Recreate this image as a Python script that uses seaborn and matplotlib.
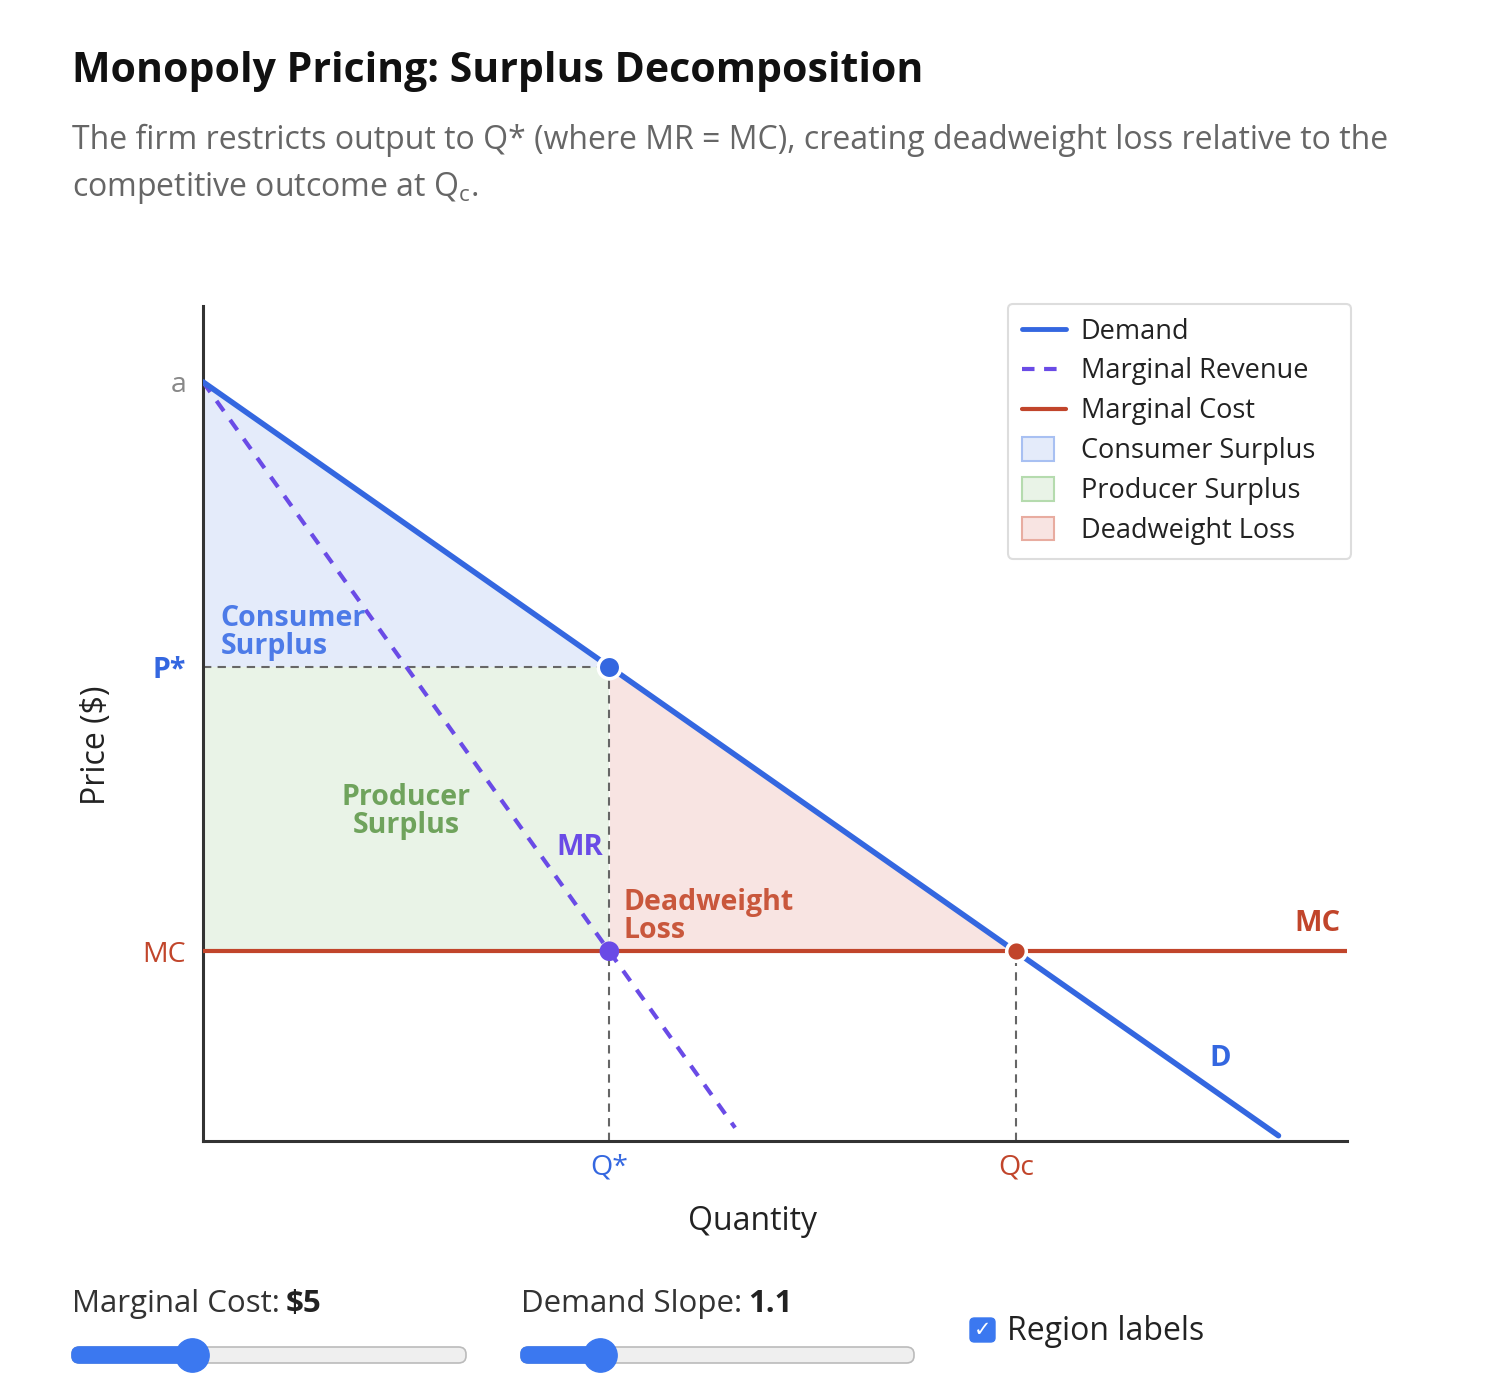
import matplotlib
matplotlib.use("Agg")
import matplotlib.pyplot as plt
import seaborn as sns
import pandas as pd
from matplotlib.patches import FancyBboxPatch, Patch, Rectangle
from matplotlib.lines import Line2D
from matplotlib.legend_handler import HandlerPatch

# ---------------- data ----------------
intercept_a = 20.0
mc_value = 5.0
p_star = 12.5
q_star = 6.82
q_comp = 13.64

demand_q = [0.0, 18.05]
demand_p = [20.0, 0.14]
mr_q = [0.0, 8.93]
mr_p = [20.0, 0.35]
mc_q = [0.0, 19.2]
mc_p = [5.0, 5.0]

price_ticks = [20.0, 12.5, 5.0]
price_tick_labels = ["a", "P*", "MC"]
qty_ticks = [6.82, 13.64]
qty_tick_labels = ["Q*", "Qc"]

x_max = 19.2
y_max = 22.0

# ---------------- style ----------------
sns.set_theme(style="white")
FONT = ["Open Sans", "DejaVu Sans"]
plt.rcParams["font.family"] = FONT

C_DEM = "#3467e0"
C_MR = "#6a4be6"
C_MC = "#c1452b"
C_CS = "#e4ebfa"
C_PS = "#e9f3e7"
C_DW = "#f8e4e2"
C_CS_T = "#4d7be8"
C_PS_T = "#6fa35c"
C_DW_T = "#c9573c"
GRAY = "#666666"

W, H = 1504, 1398
fig = plt.figure(figsize=(W / 100, H / 100), dpi=100)

def fx(px):
    return px / W

def fy(py):
    return 1 - py / H

ax = fig.add_axes([fx(203), fy(1141), fx(1347) - fx(203), fy(306) - fy(1141)])
ax.set_xlim(0, x_max)
ax.set_ylim(0, y_max)

# fills
ax.fill_between([0, q_star], [intercept_a, p_star], [p_star, p_star], color=C_CS, lw=0, zorder=1)
ax.fill_between([0, q_star], [mc_value, mc_value], [p_star, p_star], color=C_PS, lw=0, zorder=1)
ax.fill_between([q_star, q_comp], [mc_value, mc_value], [p_star, mc_value], color=C_DW, lw=0, zorder=1)

# guides
ax.plot([0, q_star], [p_star, p_star], ls=(0, (4, 3)), color=GRAY, lw=1.5, zorder=2)
ax.plot([q_star, q_star], [0, p_star], ls=(0, (4, 3)), color=GRAY, lw=1.5, zorder=2)
ax.plot([q_comp, q_comp], [0, mc_value], ls=(0, (4, 3)), color=GRAY, lw=1.5, zorder=2)

# curves
df_d = pd.DataFrame({"Q": demand_q, "P": demand_p})
df_mr = pd.DataFrame({"Q": mr_q, "P": mr_p})
df_mc = pd.DataFrame({"Q": mc_q, "P": mc_p})
sns.lineplot(data=df_mc, x="Q", y="P", ax=ax, color=C_MC, lw=3, zorder=3)
sns.lineplot(data=df_mr, x="Q", y="P", ax=ax, color=C_MR, lw=3, zorder=3)
ax.lines[-1].set_dashes([3, 2.6])
sns.lineplot(data=df_d, x="Q", y="P", ax=ax, color=C_DEM, lw=4, zorder=4)

# points
ax.scatter([q_star], [p_star], s=260, color=C_DEM, edgecolor="white", linewidth=2.5, zorder=6)
ax.scatter([q_star], [mc_value], s=200, color=C_MR, edgecolor="none", zorder=6)
ax.scatter([q_comp], [mc_value], s=200, color=C_MC, edgecolor="white", linewidth=2.5, zorder=6)

# region labels
RS = 20.5
ax.text(0.3, 13.4, "Consumer\nSurplus", color=C_CS_T, fontsize=RS, fontweight="bold",
        ha="left", va="center", linespacing=0.98, zorder=7)
ax.text(3.41, 8.68, "Producer\nSurplus", color=C_PS_T, fontsize=RS, fontweight="bold",
        ha="center", va="center", linespacing=0.98, zorder=7)
ax.text(7.06, 5.92, "Deadweight\nLoss", color=C_DW_T, fontsize=RS, fontweight="bold",
        ha="left", va="center", linespacing=0.98, zorder=7)
ax.text(6.33, 7.74, "MR", color=C_MR, fontsize=21, fontweight="bold", ha="center", va="center", zorder=7)
ax.text(18.7, 5.74, "MC", color=C_MC, fontsize=21, fontweight="bold", ha="center", va="center", zorder=7)
ax.text(17.08, 2.18, "D", color=C_DEM, fontsize=21, fontweight="bold", ha="center", va="center", zorder=7)

# ticks
ax.set_yticks(price_ticks)
ax.set_yticklabels(price_tick_labels, fontsize=20.5)
ytl = ax.get_yticklabels()
ytl[0].set_color("#888888")
ytl[1].set_color(C_DEM); ytl[1].set_fontweight("bold")
ytl[2].set_color(C_MC)
ax.set_xticks(qty_ticks)
ax.set_xticklabels(qty_tick_labels, fontsize=20.5)
xtl = ax.get_xticklabels()
xtl[0].set_color(C_DEM)
xtl[1].set_color(C_MC)
ax.tick_params(axis="y", length=0, pad=12)
ax.tick_params(axis="x", length=0, pad=9)

ax.set_xlabel("Quantity", fontsize=23, color="#222222")
ax.set_ylabel("Price ($)", fontsize=23, color="#222222")
ax.xaxis.set_label_coords((753 - 203) / 1144, -(1222 - 1141) / 835)
ax.yaxis.set_label_coords(-(203 - 96) / 1144, (1141 - 745) / 835)
ax.xaxis.label.set_va("center")
ax.yaxis.label.set_va("center")

for s in ["top", "right"]:
    ax.spines[s].set_visible(False)
for s in ["left", "bottom"]:
    ax.spines[s].set_color("#333333")
    ax.spines[s].set_linewidth(2.2)

# legend
def make_rect(legend, orig_handle, xdescent, ydescent, width, height, fontsize):
    w = width * 0.73
    h = height * 1.25
    return Rectangle((-xdescent, -ydescent - (h - height) / 2), w, h)

handles = [
    Line2D([0], [0], color=C_DEM, lw=3.5),
    Line2D([0], [0], color=C_MR, lw=3, dashes=[3, 2.3]),
    Line2D([0], [0], color=C_MC, lw=3),
    Patch(facecolor=C_CS, edgecolor="#a8c0f2", lw=1.5),
    Patch(facecolor=C_PS, edgecolor="#b5dbae", lw=1.5),
    Patch(facecolor=C_DW, edgecolor="#e8aca0", lw=1.5),
]
labels = ["Demand", "Marginal Revenue", "Marginal Cost", "Consumer Surplus",
          "Producer Surplus", "Deadweight Loss"]
leg = ax.legend(handles, labels, loc="upper left",
                bbox_to_anchor=(fx(1008), fy(563), fx(1351) - fx(1008), fy(304) - fy(563)),
                mode="expand",
                bbox_transform=fig.transFigure, fontsize=19.5, frameon=True, fancybox=True,
                edgecolor="#dddddd", framealpha=1, handlelength=1.63, handletextpad=0.55,
                labelspacing=0.44, borderpad=0.5, borderaxespad=0, labelcolor="#222222",
                handler_map={Patch: HandlerPatch(patch_func=make_rect)})
leg.get_frame().set_linewidth(1.5)

# title / subtitle
fig.text(fx(72), fy(72), "Monopoly Pricing: Surplus Decomposition", fontsize=29.5,
         fontweight="bold", color="#111111", ha="left", va="center")
fig.text(fx(72), fy(140), "The firm restricts output to Q* (where MR = MC), creating deadweight loss relative to the",
         fontsize=23, color="#666666", ha="left", va="center")
fig.text(fx(72), fy(188), r"competitive outcome at Q$_{\mathregular{c}}$.",
         fontsize=23, color="#666666", ha="left", va="center")

# controls
fig.canvas.draw()
renderer = fig.canvas.get_renderer()

def label_value(x, y, lab, val):
    t = fig.text(fx(x), fy(y), lab, fontsize=22.5, color="#333333", ha="left", va="center")
    bb = t.get_window_extent(renderer)
    fig.text(bb.x1 / W + fx(6), fy(y), val, fontsize=22.5, color="#222222",
             fontweight="bold", ha="left", va="center")

label_value(72, 1304, "Marginal Cost:", "$5")
label_value(521, 1304, "Demand Slope:", "1.1")

def slider(x0, x1, xt, yc):
    h = 16
    fig.patches.append(FancyBboxPatch((fx(x0), fy(yc + h / 2)), fx(x1 - x0), h / H,
                                      boxstyle="round,pad=0,rounding_size=0.005",
                                      transform=fig.transFigure, facecolor="#efefef",
                                      edgecolor="#bbbbbb", lw=1.2))
    fig.patches.append(FancyBboxPatch((fx(x0), fy(yc + h / 2)), fx(xt - x0), h / H,
                                      boxstyle="round,pad=0,rounding_size=0.005",
                                      transform=fig.transFigure, facecolor="#3b78f0",
                                      edgecolor="#3b78f0", lw=1.2))
    th = plt.Line2D([fx(xt)], [fy(yc)], marker="o", markersize=24, color="#3b78f0",
                    transform=fig.transFigure)
    fig.lines.append(th)

slider(72, 466, 192, 1355)
slider(521, 914, 600, 1355)

fig.patches.append(FancyBboxPatch((fx(970), fy(1342)), fx(25), 24 / H,
                                  boxstyle="round,pad=0,rounding_size=0.003",
                                  transform=fig.transFigure, facecolor="#3b78f0",
                                  edgecolor="#3b78f0"))
fig.text(fx(982.5), fy(1330), "✓", fontsize=15, color="white", fontweight="bold",
         ha="center", va="center", family=["DejaVu Sans"])
fig.text(fx(1007), fy(1332), "Region labels", fontsize=23, color="#222222", ha="left", va="center")

fig.savefig("out.png", dpi=100, facecolor="white")
